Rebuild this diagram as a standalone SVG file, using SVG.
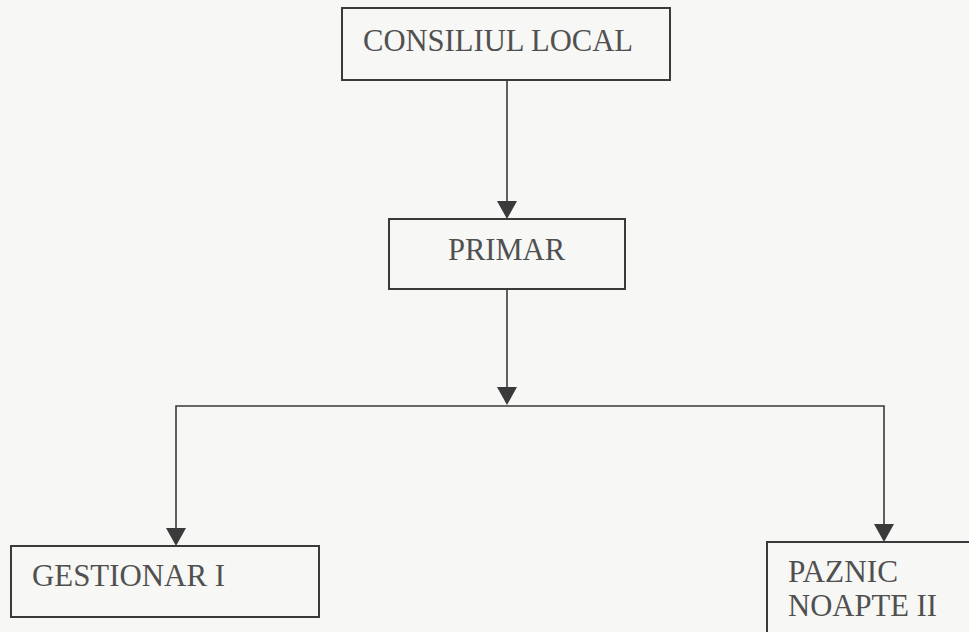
<svg xmlns="http://www.w3.org/2000/svg" width="969" height="632" viewBox="0 0 969 632">
<style>
.box{fill:none;stroke:#3a3a3a;stroke-width:2}
.lbl{font-family:"Liberation Serif","Times New Roman",serif;font-size:31px;fill:#505050}
.con{fill:none;stroke:#3a3a3a;stroke-width:1.6}
.ah{fill:#3a3a3a}
</style>
<rect width="969" height="632" fill="#f7f7f5"/>
<g id="connectors">
<path class="con" d="M507,80 V201"/>
<path class="ah" d="M497,201 L517,201 L507,219 Z"/>
<path class="con" d="M507,289 V387"/>
<path class="ah" d="M497,387 L517,387 L507,405 Z"/>
<path class="con" d="M176,528 V406 H884 V524"/>
<path class="ah" d="M166,528 L186,528 L176,546 Z"/>
<path class="ah" d="M874,524 L894,524 L884,542 Z"/>
</g>
<g id="consiliul">
<rect class="box" x="342" y="8" width="328" height="72"/>
<text class="lbl" x="363" y="51" textLength="270" lengthAdjust="spacingAndGlyphs">CONSILIUL LOCAL</text>
</g>
<g id="primar">
<rect class="box" x="389" y="219" width="236" height="70"/>
<text class="lbl" x="448" y="260" textLength="117" lengthAdjust="spacingAndGlyphs">PRIMAR</text>
</g>
<g id="gestionar">
<rect class="box" x="11" y="546" width="308" height="71"/>
<text class="lbl" x="32" y="586" textLength="193" lengthAdjust="spacingAndGlyphs">GESTIONAR I</text>
</g>
<g id="paznic">
<rect class="box" x="767" y="542" width="230" height="110"/>
<text class="lbl" x="788" y="582" textLength="110" lengthAdjust="spacingAndGlyphs">PAZNIC</text>
<text class="lbl" x="788" y="616" textLength="149" lengthAdjust="spacingAndGlyphs">NOAPTE II</text>
</g>
</svg>
